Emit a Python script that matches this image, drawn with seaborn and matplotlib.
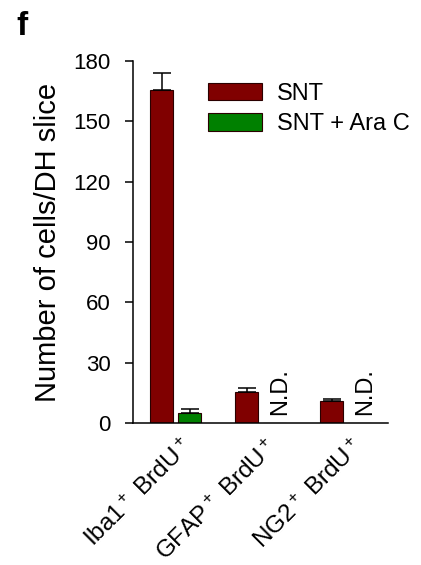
import pandas as pd
import seaborn as sns
import matplotlib.pyplot as plt
from matplotlib.transforms import ScaledTranslation

# Values
categories = ['Iba1$^+$ BrdU$^+$', 'GFAP$^+$ BrdU$^+$', 'NG2$^+$ BrdU$^+$']
groups = ['SNT', 'SNT + Ara C']
snt_mean = [165.5, 15.5, 11.0]
snt_err = [8.7, 2.0, 1.0]
arac_mean = [4.8, 0.0, 0.0]
arac_err = [2.0, 0.0, 0.0]
not_detected = [False, True, True]
colors = ['#800000', '#008000']

sns.set_style('ticks')
plt.rcParams['font.family'] = ['Liberation Sans', 'DejaVu Sans']
plt.rcParams['mathtext.default'] = 'regular'
plt.rcParams['text.color'] = 'black'
plt.rcParams['axes.labelcolor'] = 'black'
plt.rcParams['xtick.color'] = 'black'
plt.rcParams['ytick.color'] = 'black'
plt.rcParams['axes.edgecolor'] = 'black'

df = pd.DataFrame({
    'cat': categories * 2,
    'group': [groups[0]] * 3 + [groups[1]] * 3,
    'value': snt_mean + arac_mean,
})

fig = plt.figure(figsize=(4.21, 5.65), dpi=100)
ax = fig.add_axes([0.316, 0.2513, 0.606, 0.6407])

sns.barplot(data=df, x='cat', y='value', hue='group', palette=colors,
            saturation=1, width=0.66, gap=0.18, edgecolor='#2a0000',
            linewidth=0.8, errorbar=None, ax=ax)

# upward error bars
for cont, errs in zip(ax.containers, [snt_err, arac_err]):
    for bar, e in zip(cont, errs):
        if e > 0:
            ax.errorbar(bar.get_x() + bar.get_width() / 2, bar.get_height(),
                        yerr=[[0], [e]], fmt='none', ecolor='black',
                        elinewidth=1.1, capsize=6.5, capthick=1.1)

# N.D. labels for the Ara C bars that were not detected
for bar, nd in zip(ax.containers[1], not_detected):
    if nd:
        ax.text(bar.get_x() + bar.get_width() / 2 + 0.06, 4, 'N.D.',
                rotation=90, ha='center', va='bottom', fontsize=17)

ax.set_ylim(0, 180)
ax.set_xlim(-0.5, 2.5)
ax.set_yticks([0, 30, 60, 90, 120, 150, 180])
ax.set_xlabel('')
ax.set_ylabel('Number of cells/DH slice', fontsize=21, labelpad=8)
ax.tick_params(axis='y', labelsize=16, length=6, width=1.1, pad=10, direction='out')
ax.tick_params(axis='x', length=0, pad=9)
ax.set_xticks(range(len(categories)))
ax.set_xticklabels(categories, rotation=45, ha='right', rotation_mode='anchor', fontsize=17.5)
shift = ScaledTranslation(4 / 72, 0, fig.dpi_scale_trans)
for lab in ax.get_xticklabels():
    lab.set_transform(lab.get_transform() + shift)
sns.despine(ax=ax)
for s in ['left', 'bottom']:
    ax.spines[s].set_linewidth(1.1)

ax.legend(loc='upper left', bbox_to_anchor=(0.294, 0.94), frameon=False,
          fontsize=17, handlelength=2.3, handleheight=0.75,
          handletextpad=0.6, labelspacing=0.36, borderpad=0, borderaxespad=0)

fig.text(0.04, 0.98, 'f', fontsize=24, fontweight='bold', va='top', ha='left')

fig.savefig('out.png', dpi=100)
